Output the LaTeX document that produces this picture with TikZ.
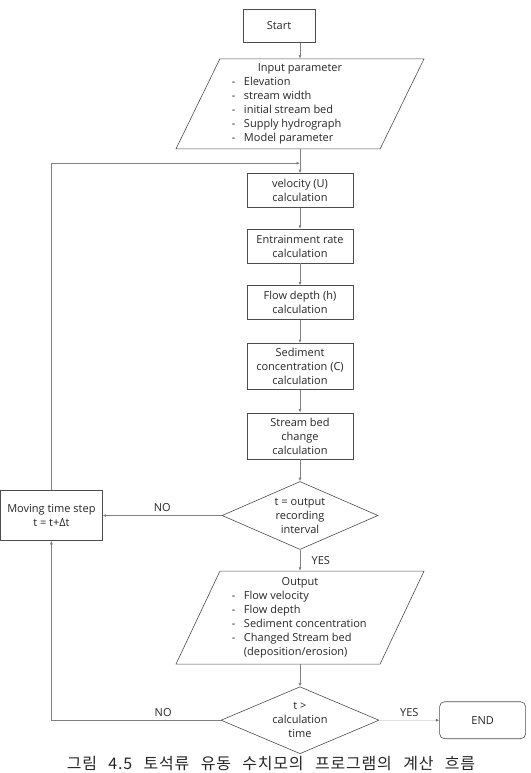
\documentclass[tikz,border=0pt]{standalone}
\usepackage{fontspec}
\setmainfont{Open Sans}
\newfontfamily\krfont[LetterSpace=5, WordSpace=2.6]{Noto Sans CJK KR}
\usetikzlibrary{arrows.meta, positioning, shapes.geometric}
\newcommand{\itm}[1]{\makebox[136pt][l]{\makebox[12pt][l]{-}#1}}
\newcommand{\itmcont}[1]{\makebox[136pt][l]{\hspace{12pt}#1}}

\begin{document}
\begin{tikzpicture}[x=1pt, y=-1pt, text=black!85,
    font=\fontsize{11}{14}\selectfont,
    box/.style={draw=black!70, line width=0.6pt, rectangle, minimum width=106pt, minimum height=34pt, align=center, inner sep=1pt},
    io/.style={draw=black!70, line width=0.6pt, trapezium, trapezium left angle=62, trapezium right angle=118, trapezium stretches body, minimum width=248pt, minimum height=90pt, inner sep=1pt, align=center},
    decision/.style={draw=black!70, line width=0.6pt, diamond, minimum width=156pt, minimum height=68pt, inner sep=0pt},
    dtext/.style={align=center},
    conn/.style={draw=black!50, line width=0.6pt, -{Latex[length=3.5pt, width=3pt]}}]
    \useasboundingbox (0,0) rectangle (530,773);

    \node[box] (vel) at (300,190.5) {velocity (U)\\calculation};
    \node[io, above=24pt of vel] (inp) {Input parameter\\\itm{Elevation}\\\itm{stream width}\\\itm{initial stream bed}\\\itm{Supply hydrograph}\\\itm{Model parameter}};
    \node[box, minimum width=72pt, minimum height=33pt, above=16pt of inp, xshift=-21pt] (start) {Start};
    \node[box, below=21pt of vel] (entr) {Entrainment rate\\calculation};
    \node[box, below=22pt of entr] (depth) {Flow depth (h)\\calculation};
    \node[box, minimum height=46pt, below=23pt of depth] (conc) {Sediment\\concentration (C)\\calculation};
    \node[box, minimum height=46pt, below=23pt of conc] (bed) {Stream bed\\change\\calculation};
    \node[decision, below=22pt of bed, label={[dtext]center:{t = output\\recording\\interval}}] (chk1) {};
    \node[box, minimum width=102pt, minimum height=50pt, left=119pt of chk1] (mv) {Moving time step\\t = t+Δt};
    \node[io, minimum height=93pt, below=21pt of chk1] (out) {Output\\\itm{Flow velocity}\\\itm{Flow depth}\\\itm{Sediment concentration}\\\itm{Changed Stream bed}\\\itmcont{(deposition/erosion)}};
    \node[decision, minimum width=158pt, minimum height=67pt, below=22pt of out, label={[dtext]center:{t >\\calculation\\time}}] (chk2) {};
    \node[box, rounded corners=5pt, minimum width=86pt, minimum height=37pt, right=60pt of chk2] (fin) {END};
    \node[font=\krfont\fontsize{16}{18}\selectfont] (cap) at (271,764) {그림 4.5 토석류 유동 수치모의 프로그램의 계산 흐름};

    \coordinate[above=10pt of vel.north] (join);

    \draw[conn] (start.south -| inp.north) -- (inp.north);
    \draw[conn] (inp.south) -- (vel.north);
    \draw[conn] (mv.north) |- (join);
    \draw[conn] (vel) -- (entr);
    \draw[conn] (entr) -- (depth);
    \draw[conn] (depth) -- (conc);
    \draw[conn] (conc) -- (bed);
    \draw[conn] (bed) -- (chk1);
    \draw[conn] (chk1.west) -- node[above] {NO} (mv.east);
    \draw[conn] (chk1.south) -- node[right, xshift=8pt] {YES} (out.north);
    \draw[conn] (out.south) -- (chk2.north);
    \draw[conn] (chk2.west) -| node[above, pos=0.17] {NO} (mv.south);
    \draw[conn, draw=black!12, -{Latex[length=3.5pt, width=3pt, color=black!55]}] (chk2.east) -- node[above] {YES} (fin.west);
\end{tikzpicture}
\end{document}
